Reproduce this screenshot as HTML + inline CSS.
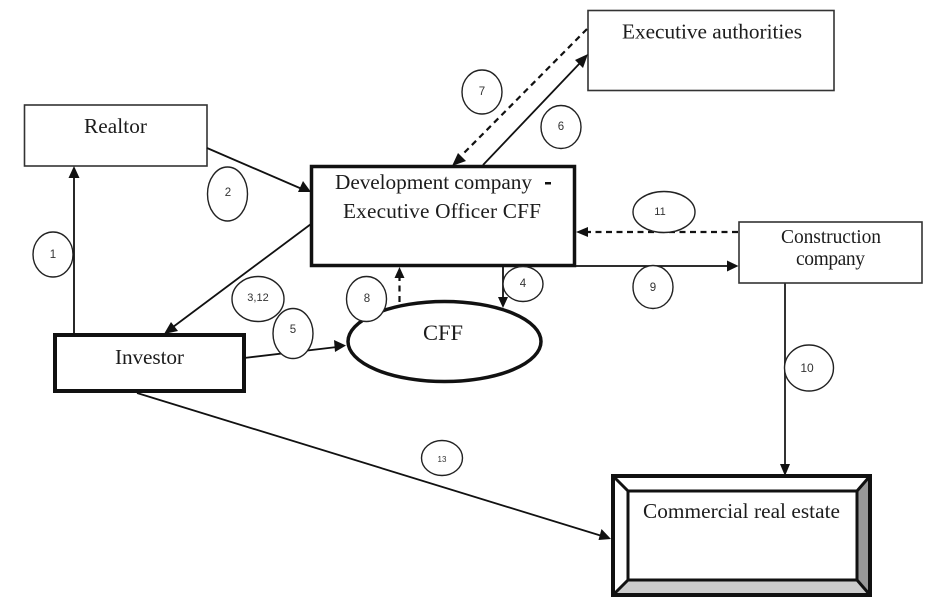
<!DOCTYPE html>
<html><head><meta charset="utf-8"><style>
html,body{margin:0;padding:0;background:#fff;width:945px;height:612px;overflow:hidden}
svg{display:block}
.s{font-family:"Liberation Serif",serif;fill:#1c1c1c;font-size:21.3px}
.n{font-family:"Liberation Sans",sans-serif;fill:#333;text-anchor:middle}
.c{fill:#fff;stroke:#222;stroke-width:1.4}
.l{stroke:#111;stroke-width:1.8;fill:none}
.d{stroke:#111;stroke-width:2.2;fill:none;stroke-dasharray:6 4.500}
.a{fill:#111}
</style></head><body>
<svg width="945" height="612" viewBox="0 0 945 612" xmlns="http://www.w3.org/2000/svg">
<rect width="945" height="612" fill="#fff"/>
<!-- boxes -->
<rect x="588" y="10.500" width="246" height="80" fill="#fff" stroke="#333" stroke-width="1.600"/>
<rect x="24.500" y="105" width="182.500" height="61" fill="#fff" stroke="#333" stroke-width="1.600"/>
<rect x="739" y="222" width="183" height="61" fill="#fff" stroke="#333" stroke-width="1.600"/>
<rect x="311.500" y="166.500" width="263" height="99" fill="#fff" stroke="#111" stroke-width="3.500"/>
<rect x="55" y="335" width="189" height="56" fill="#fff" stroke="#111" stroke-width="4"/>
<ellipse cx="444.500" cy="341.500" rx="96.500" ry="40" fill="#fff" stroke="#111" stroke-width="3.500"/>
<!-- bevel -->
<rect x="613" y="476" width="257" height="119" fill="#fff"/>
<polygon points="857,491 870,476 870,595 857,580" fill="#999"/>
<polygon points="628,580 857,580 870,595 613,595" fill="#ccc"/>
<rect x="613" y="476" width="257" height="119" fill="none" stroke="#111" stroke-width="4"/>
<rect x="628" y="491" width="229" height="89" fill="none" stroke="#111" stroke-width="3"/>
<path d="M613 476L628 491M870 476L857 491M613 595L628 580M870 595L857 580" stroke="#111" stroke-width="3"/>
<!-- lines -->
<path class="l" d="M74 335V176"/><polygon class="a" points="74,166 68.500,178 79.500,178"/>
<path class="l" d="M207 148L302 189"/><polygon class="a" points="311,192 298,192 303,181"/>
<path class="l" d="M311 224L173 327"/><polygon class="a" points="164,334 171,322 178,331"/>
<path class="l" d="M244 358L337 347"/><polygon class="a" points="346,345.500 334,340 335,352"/>
<path class="l" d="M503 266V299"/><polygon class="a" points="503,308 498,297 508,297"/>
<path class="l" d="M483 165L580 63"/><polygon class="a" points="588,54 575,60 583,68"/>
<path class="d" d="M587 29L462 155"/><polygon class="a" points="452,166 458,153 466,161"/>
<path class="d" d="M399.500 302V278"/><polygon class="a" points="399.500,267 394.500,278 404.500,278"/>
<path class="d" d="M738 232H587"/><polygon class="a" points="576,232 588,227 588,237"/>
<path class="l" d="M575 266H729" stroke-width="2"/><polygon class="a" points="738.500,266 727,260.500 727,271.500"/>
<path class="l" d="M785 283V465" style="stroke:#333;stroke-width:2"/><polygon class="a" points="785,476 780,464 790,464"/>
<path class="l" d="M137 393L602 536"/><polygon class="a" points="611,539 598.500,540 601.500,529"/>
<!-- circles -->
<ellipse class="c" cx="53" cy="254.500" rx="20" ry="22.500"/>
<ellipse class="c" cx="227.500" cy="194" rx="20" ry="27"/>
<ellipse class="c" cx="258" cy="299" rx="26" ry="22.500"/>
<ellipse class="c" cx="293" cy="333.500" rx="20" ry="25"/>
<ellipse class="c" cx="366.500" cy="299" rx="20" ry="22.500"/>
<ellipse class="c" cx="523" cy="284" rx="20" ry="17.500"/>
<ellipse class="c" cx="482" cy="92" rx="20" ry="22"/>
<ellipse class="c" cx="561" cy="127" rx="20" ry="21.500"/>
<ellipse class="c" cx="664" cy="212" rx="31" ry="20.500"/>
<ellipse class="c" cx="653" cy="287" rx="20" ry="21.500"/>
<ellipse class="c" cx="809" cy="368" rx="24.500" ry="23"/>
<ellipse class="c" cx="442" cy="458" rx="20.500" ry="17.500"/>
<!-- numbers -->
<text class="n" x="53" y="258" font-size="11.500">1</text>
<text class="n" x="228" y="196" font-size="11.500">2</text>
<text class="n" x="258" y="301" font-size="11">3,12</text>
<text class="n" x="293" y="333" font-size="11.500">5</text>
<text class="n" x="367" y="302" font-size="11.500">8</text>
<text class="n" x="523" y="287" font-size="11.500">4</text>
<text class="n" x="482" y="95" font-size="11.500">7</text>
<text class="n" x="561" y="130" font-size="11.500">6</text>
<text class="n" x="660" y="215" font-size="11">11</text>
<text class="n" x="653" y="291" font-size="11.500">9</text>
<text class="n" x="807" y="372" font-size="12">10</text>
<text class="n" x="442" y="462" font-size="8">13</text>
<!-- labels -->
<text class="s" x="622" y="38.500" textLength="180">Executive authorities</text>
<text class="s" x="84" y="133" textLength="63">Realtor</text>
<text class="s" x="335" y="189" textLength="197">Development company</text>
<rect x="545" y="182" width="6" height="2.500" fill="#111"/>
<text class="s" x="343" y="218" textLength="198">Executive Officer CFF</text>
<text class="s" style="font-size:19.500px" x="781" y="243" textLength="100">Construction</text>
<text class="s" style="font-size:19.500px" x="796" y="265" textLength="69">company</text>
<text class="s" x="115" y="364" textLength="69">Investor</text>
<text class="s" style="font-size:22.500px" x="423" y="340" textLength="40">CFF</text>
<text class="s" x="643" y="518" textLength="197">Commercial real estate</text>
</svg>
</body></html>
